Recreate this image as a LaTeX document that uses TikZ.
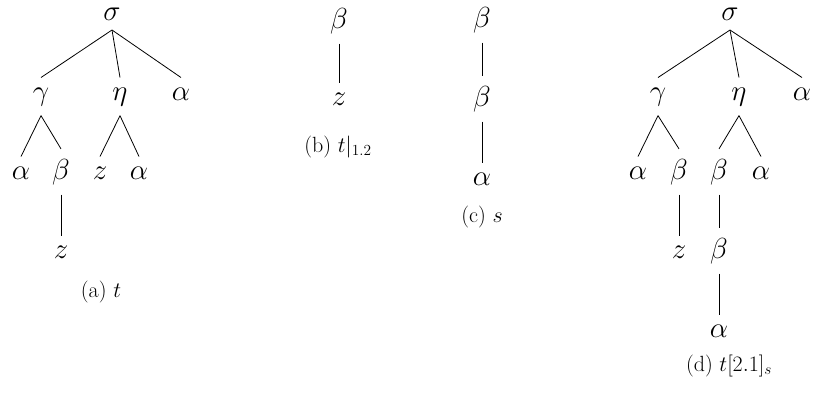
\RequirePackage{fix-cm}
\documentclass[tikz,border=0pt]{standalone}
\begin{document}
\begin{tikzpicture}[x=1pt,y=-1pt,
  tn/.style={anchor=base, inner sep=0pt, outer sep=10pt, font=\fontsize{29}{35}\selectfont},
  captxt/.style={anchor=base, inner sep=0pt, font=\fontsize{22}{26}\selectfont},
  treeedge/.style={line width=0.8pt}]
\useasboundingbox (0,0) rectangle (814,392);
% (a)
\node[tn] (a0) at (112,20) {$\sigma$};
\node[tn] (a1) at (41,100) {$\gamma$};
\node[tn] (a2) at (120,100) {$\eta$};
\node[tn] (a3) at (181,100) {$\alpha$};
\node[tn] (a11) at (21,179) {$\alpha$};
\node[tn] (a12) at (61,179) {$\beta$};
\node[tn] (a21) at (100,179) {$z$};
\node[tn] (a22) at (139,179) {$\alpha$};
\node[tn] (a121) at (61,258) {$z$};
\node[captxt] (ca) at (101,297) {(a) $t$};
\foreach \p/\c in {a0/a1,a0/a2,a0/a3,a1/a11,a1/a12,a2/a21,a2/a22,a12/a121}
  \draw[treeedge] (\p.south) -- (\c.north);
% (b)
\node[tn] (b0) at (339,28) {$\beta$};
\node[tn] (b1) at (339,105) {$z$};
\node[captxt] (cb) at (338,152) {(b) $t|_{1.2}$};
\draw[treeedge] (b0.south) -- (b1.north);
% (c)
\node[tn] (c0) at (482,27) {$\beta$};
\node[tn] (c1) at (482,106) {$\beta$};
\node[tn] (c2) at (482,185) {$\alpha$};
\node[captxt] (cc) at (482,222) {(c) $s$};
\draw[treeedge] (c0.south) -- (c1.north);
\draw[treeedge] (c1.south) -- (c2.north);
% (d)
\node[tn] (d0) at (730,20) {$\sigma$};
\node[tn] (d1) at (658,100) {$\gamma$};
\node[tn] (d2) at (739,100) {$\eta$};
\node[tn] (d3) at (802,100) {$\alpha$};
\node[tn] (d11) at (638,179) {$\alpha$};
\node[tn] (d12) at (679,179) {$\beta$};
\node[tn] (d21) at (719,179) {$\beta$};
\node[tn] (d22) at (761,179) {$\alpha$};
\node[tn] (d121) at (679,258) {$z$};
\node[tn] (d211) at (719,258) {$\beta$};
\node[tn] (d2111) at (719,337) {$\alpha$};
\node[captxt] (cd) at (729,371) {(d) $t[2.1]_s$};
\foreach \p/\c in {d0/d1,d0/d2,d0/d3,d1/d11,d1/d12,d2/d21,d2/d22,d12/d121,d21/d211,d211/d2111}
  \draw[treeedge] (\p.south) -- (\c.north);
\end{tikzpicture}
\end{document}
